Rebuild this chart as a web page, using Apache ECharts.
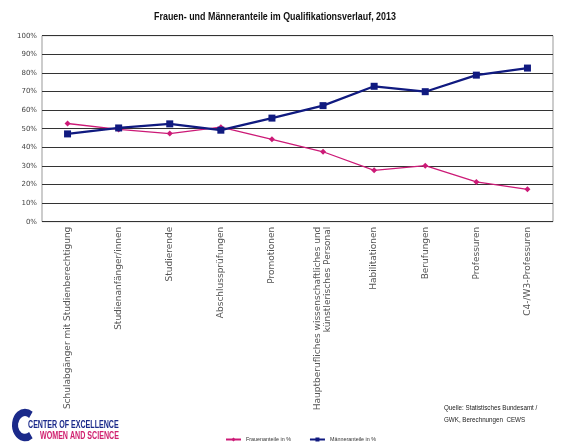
<!DOCTYPE html>
<html><head><meta charset="utf-8">
<script src="https://cdn.jsdelivr.net/npm/echarts@6/dist/echarts.min.js"></script>
<style>html,body{margin:0;padding:0;background:#fff}#c{width:563px;height:443px}</style>
</head><body><div id="c"></div>
<script>
const categories = ["Schulabgänger mit Studienberechtigung","Studienanfänger/innen","Studierende","Abschlussprüfungen","Promotionen","Hauptberufliches wissenschaftliches und\nkünstlerisches Personal","Habilitationen","Berufungen","Professuren","C4-/W3-Professuren"];
const frauen = [52.8, 49.6, 47.4, 50.8, 44.3, 37.6, 27.6, 30.1, 21.4, 17.4];
const maenner = [47.2, 50.4, 52.6, 49.2, 55.7, 62.4, 72.8, 69.9, 78.8, 82.6];
const title = "Frauen- und Männeranteile im Qualifikationsverlauf, 2013";
const source = ["Quelle: Statistisches Bundesamt /", "GWK, Berechnungen  CEWS"];

const chart = echarts.init(document.getElementById('c'));
const F = 'Liberation Sans, Arial, sans-serif';
const D = 'DejaVu Sans, sans-serif';
chart.setOption({
  animation:false,
  grid:{left:42,right:10,top:35.7,bottom:221.3,show:true,borderColor:'#999',borderWidth:1},
  xAxis:{type:'category',data:categories,boundaryGap:true,
    axisLine:{show:false},axisTick:{show:false},
    axisLabel:{rotate:90,interval:0,fontFamily:D,fontSize:9,color:'#555',margin:5,lineHeight:10}},
  yAxis:{type:'value',min:0,max:100,interval:10,
    axisLine:{show:false},axisTick:{show:false},
    axisLabel:{formatter:'{value}%',fontFamily:D,fontSize:7,color:'#444',margin:5},
    splitLine:{lineStyle:{color:'#333',width:1.2}}},
  legend:{left:220,top:432,itemGap:18,itemWidth:15,itemHeight:5,
    textStyle:{fontFamily:F,fontSize:5.4,color:'#333'},
    data:['Frauenanteile in %','Männeranteile in %']},
  series:[
    {name:'Frauenanteile in %',type:'line',data:frauen,symbol:'diamond',symbolSize:6,
      lineStyle:{color:'#cc1a77',width:1.3},itemStyle:{color:'#cc1a77'}},
    {name:'Männeranteile in %',type:'line',data:maenner,symbol:'rect',symbolSize:7,
      lineStyle:{color:'#101a80',width:2.2},itemStyle:{color:'#101a80'}}
  ],
  graphic:[
    {type:'text',x:275,y:12,scaleX:0.89,style:{text:title,textAlign:'center',fontFamily:F,fontSize:10,fontWeight:'bold',fill:'#111'}},
    {type:'text',x:444,y:402,scaleX:0.78,style:{text:source.join('\n'),fontFamily:F,fontSize:8,lineHeight:12,fill:'#222'}},
    {type:'arc',x:25,y:425,scaleY:1.25,shape:{cx:0,cy:0,r:10,startAngle:Math.PI*0.3,endAngle:Math.PI*1.7,clockwise:true},
      style:{stroke:'#1b2a8a',lineWidth:6,fill:null}},
    {type:'text',x:28,y:420,scaleX:0.71,style:{text:'CENTER OF EXCELLENCE',fontFamily:F,fontSize:10,fontWeight:'bold',fill:'#1b2a8a'}},
    {type:'text',x:40,y:431,scaleX:0.71,style:{text:'WOMEN AND SCIENCE',fontFamily:F,fontSize:10,fontWeight:'bold',fill:'#d0206f'}}
  ]
});
</script></body></html>
